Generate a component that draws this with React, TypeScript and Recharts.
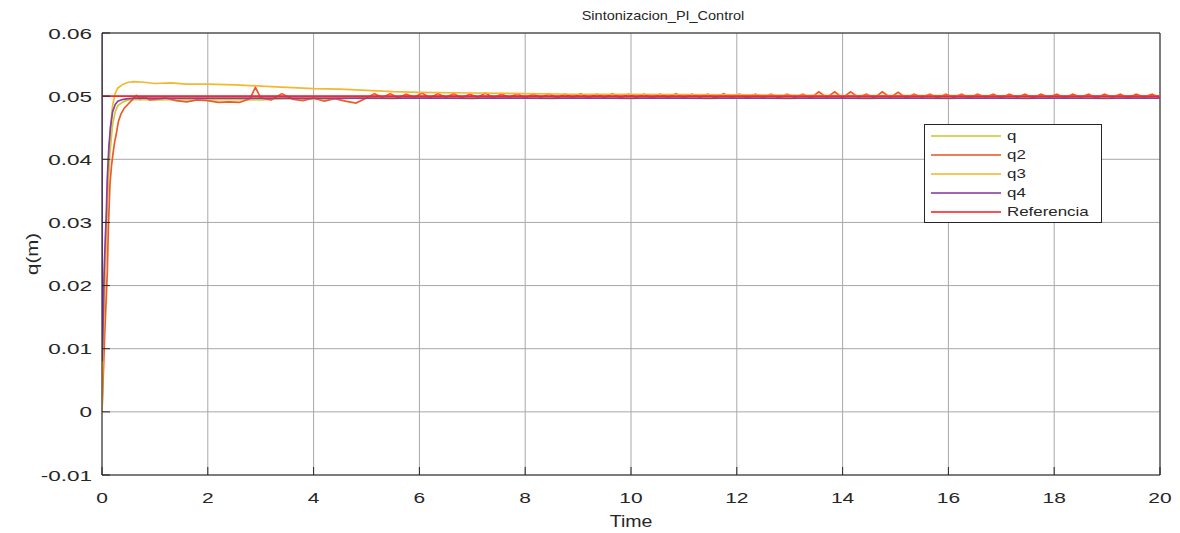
import React from 'react';
import { LineChart, Line, XAxis, YAxis, CartesianGrid, Legend, ReferenceLine } from 'recharts';

const xTicks = [0, 2, 4, 6, 8, 10, 12, 14, 16, 18, 20];
const yTicks = [-0.01, 0, 0.01, 0.02, 0.03, 0.04, 0.05, 0.06];

// q
const qTime = [0, 0.02, 0.05, 0.08, 0.1, 0.15, 0.2, 0.25, 0.3, 0.4, 0.5, 0.7, 1,
  1.5, 2, 2.5, 3, 3.5, 4, 4.5, 5,
  5.5, 6, 6.5, 7, 7.5, 8, 8.5, 9, 9.5, 10, 10.5, 11, 11.5, 12, 12.5, 13, 13.5, 14, 14.5, 15,
  15.5, 16, 16.5, 17, 17.5, 18, 18.5, 19, 19.5, 20];
const qVals = [0, 0.008, 0.019, 0.027, 0.033, 0.041, 0.0455, 0.0475, 0.0485, 0.0491, 0.0494, 0.0495, 0.0494,
  0.0495, 0.0494, 0.0495, 0.0494, 0.0496, 0.0495, 0.0496, 0.0497,
  0.0496, 0.0498, 0.0497, 0.0496, 0.0498, 0.0497, 0.0496, 0.0498, 0.0497, 0.0496, 0.0498, 0.0497, 0.0496, 0.0498, 0.0497,
  0.0496, 0.0498, 0.0497, 0.0496, 0.0498, 0.0497, 0.0496, 0.0498, 0.0497, 0.0496, 0.0498, 0.0497, 0.0496, 0.0498, 0.0497];

// q2: transient + first seconds
const q2Time = [0, 0.05, 0.08, 0.1, 0.12, 0.15, 0.18, 0.21, 0.24, 0.27, 0.31, 0.36, 0.42, 0.5, 0.58, 0.65, 0.72, 0.8, 0.9, 1.0,
  1.2, 1.4, 1.6, 1.8, 2.0, 2.2, 2.4, 2.6, 2.8, 2.9, 3.0, 3.2, 3.4, 3.6, 3.8, 4.0, 4.2, 4.4, 4.6, 4.8, 5.0];
const q2Vals = [0, 0.012, 0.018, 0.022, 0.029, 0.036, 0.039, 0.041, 0.0428, 0.044, 0.046, 0.0472, 0.0481, 0.0488, 0.0495, 0.0501, 0.0496, 0.0499, 0.0494, 0.0495,
  0.0497, 0.0493, 0.0491, 0.0494, 0.0493, 0.049, 0.0491, 0.049, 0.0496, 0.0514, 0.0497, 0.0494, 0.0504, 0.0495, 0.0493, 0.0497, 0.0492, 0.0496, 0.0492, 0.0489, 0.0497];
// q2: oscillation after t = 5, one sample every 0.15 s
const q2OscStart = 5;
const q2OscStep = 0.15;
const q2OscVals = [
  0.0504, 0.0498, 0.0504, 0.0497, 0.0503, 0.0498, 0.0505, 0.0497, 0.0504, 0.0498,
  0.0504, 0.0497, 0.0503, 0.0498, 0.0505, 0.0497, 0.0503, 0.0498, 0.0504, 0.0497,
  0.0503, 0.0498, 0.0504, 0.0497, 0.0503, 0.0498, 0.0504, 0.0497, 0.0503, 0.0498,
  0.0504, 0.0497, 0.0503, 0.0498, 0.0503, 0.0497, 0.0503, 0.0498, 0.0504, 0.0497,
  0.0503, 0.0498, 0.0503, 0.0497, 0.0504, 0.0498, 0.0503, 0.0497, 0.0503, 0.0498,
  0.0503, 0.0497, 0.0503, 0.0498, 0.0503, 0.0497, 0.0507, 0.0498, 0.0507, 0.0497,
  0.0507, 0.0498, 0.0503, 0.0497, 0.0507, 0.0498, 0.0506, 0.0497, 0.0503, 0.0498,
  0.0503, 0.0497, 0.0503, 0.0498, 0.0503, 0.0497, 0.0503, 0.0498, 0.0503, 0.0497,
  0.0503, 0.0498, 0.0503, 0.0497, 0.0503, 0.0498, 0.0503, 0.0497, 0.0503, 0.0498,
  0.0503, 0.0497, 0.0503, 0.0498, 0.0503, 0.0497, 0.0503, 0.0498, 0.0503, 0.0497,
];

// q3
const q3Time = [0, 0.01, 0.03, 0.05, 0.08, 0.1, 0.13, 0.16, 0.2, 0.25, 0.3, 0.4, 0.5, 0.6, 0.8, 1.0, 1.3, 1.6, 2.0, 2.5,
  3.0, 3.5, 4.0, 4.5, 5.0, 5.5, 6, 7, 8, 9, 10, 12, 14, 16, 18, 20];
const q3Vals = [0, 0.006, 0.013, 0.021, 0.029, 0.035, 0.0405, 0.045, 0.0485, 0.0505, 0.0513, 0.0519, 0.0522, 0.0523, 0.0522, 0.052,
  0.0521, 0.0519, 0.0519, 0.0518, 0.0516, 0.0514, 0.0512, 0.0511, 0.0509, 0.0507, 0.0506, 0.0505, 0.0504, 0.0503, 0.0503,
  0.0502, 0.0501, 0.0501, 0.05, 0.05];

// q4
const q4Time = [0, 0.005, 0.02, 0.04, 0.06, 0.08, 0.1, 0.13, 0.16, 0.2, 0.25, 0.3, 0.4, 0.5, 0.6, 1, 20];
const q4Vals = [0.06, 0.008, 0.014, 0.022, 0.027, 0.031, 0.037, 0.042, 0.045, 0.0475, 0.0487, 0.0492, 0.0495, 0.0496, 0.0497, 0.0497, 0.0497];

// Referencia
const refTime = [0, 20];
const refVals = [0.05, 0.05];

const zip = (t: number[], v: number[]) => t.map((x, i) => ({ t: x, v: v[i] }));

const q2AllTime = q2Time.concat(q2OscVals.map((_, i) => +(q2OscStart + (i + 1) * q2OscStep).toFixed(2)));
const q2AllVals = q2Vals.concat(q2OscVals);

const series = [
  { name: 'q', color: '#cccc33', data: zip(qTime, qVals) },
  { name: 'q2', color: '#ec5a2a', data: zip(q2AllTime, q2AllVals) },
  { name: 'q3', color: '#f4b732', data: zip(q3Time, q3Vals) },
  { name: 'q4', color: '#8a3fa5', data: zip(q4Time, q4Vals) },
  { name: 'Referencia', color: '#ff2424', data: zip(refTime, refVals) },
];
const seriesOrder = series.map((s) => s.name);

const FONT = '"Liberation Sans", Arial, Helvetica, sans-serif';
const INK = '#262626';

const fmtY = (v: number) => (v === 0 ? '0' : String(+v.toFixed(2)));

const YTick = (props: any) => (
  <g transform={`translate(${props.x},${props.y})`}>
    <text transform="scale(1.5,1)" textAnchor="end" dy={5.5} fontSize={15} fill={INK} fontFamily={FONT}>
      {fmtY(props.payload.value)}
    </text>
  </g>
);

const XTick = (props: any) => (
  <g transform={`translate(${props.x},${props.y})`}>
    <text transform="scale(1.4,1)" textAnchor="middle" dy={14} fontSize={15} fill={INK} fontFamily={FONT}>
      {props.payload.value}
    </text>
  </g>
);

const LegendBox = (props: any) => {
  const items = [...(props.payload || [])].sort(
    (a: any, b: any) => seriesOrder.indexOf(a.value) - seriesOrder.indexOf(b.value)
  );
  return (
    <div style={{ width: 178, height: 99, border: `1px solid ${INK}`, background: '#fff', boxSizing: 'border-box', paddingTop: 1 }}>
      {items.map((p: any) => (
        <div key={p.value} style={{ display: 'flex', alignItems: 'center', height: 19 }}>
          <div style={{ width: 70, height: 0, borderTop: `2px solid ${p.color}`, marginLeft: 6, opacity: 0.8 }} />
          <span style={{ marginLeft: 6, fontSize: 13, lineHeight: '19px', transform: 'scaleX(1.3)', transformOrigin: 'left center', fontFamily: FONT, color: INK, whiteSpace: 'nowrap' }}>
            {p.value}
          </span>
        </div>
      ))}
    </div>
  );
};

const TitleLabel = (p: any) => {
  const vb = p.viewBox;
  const cx = vb.x + vb.width / 2 + 32;
  return (
    <text x={0} y={0} textAnchor="middle" fontSize={12.5} fill={INK} fontFamily={FONT}
      transform={`translate(${cx},${vb.y - 13}) scale(1.16,1)`}>
      Sintonizacion_PI_Control
    </text>
  );
};

export default function App() {
  return (
    <div style={{ position: 'absolute', left: 0, top: 0, width: 1180, height: 533, background: '#fff' }}>
      <LineChart width={1180} height={533} margin={{ top: 33, right: 20, bottom: 0, left: 0 }}>
        <CartesianGrid stroke="#a8a8a8" strokeWidth={1} horizontalValues={yTicks} verticalValues={xTicks} />
        <XAxis
          dataKey="t"
          type="number"
          domain={[0, 20]}
          ticks={xTicks}
          allowDataOverflow
          height={58}
          stroke={INK}
          tickSize={-8}
          tickMargin={22}
          tick={XTick}
          label={(p: any) => {
            const vb = p.viewBox;
            return (
              <text x={0} y={0} textAnchor="middle" fontSize={17} fill={INK} fontFamily={FONT}
                transform={`translate(${vb.x + vb.width / 2},${vb.y + 52}) scale(1.15,1)`}>
                Time
              </text>
            );
          }}
        />
        <YAxis
          type="number"
          domain={[-0.01, 0.06]}
          ticks={yTicks}
          allowDataOverflow
          width={102}
          stroke={INK}
          tickSize={-8}
          tickMargin={18}
          tick={YTick}
          label={(p: any) => {
            const vb = p.viewBox;
            return (
              <text x={0} y={0} textAnchor="middle" fontSize={17} fill={INK} fontFamily={FONT}
                transform={`translate(38,${vb.y + vb.height / 2}) rotate(-90) scale(1.2,1)`}>
                q(m)
              </text>
            );
          }}
        />
        <ReferenceLine y={0.06} stroke={INK} strokeWidth={1} label={TitleLabel} />
        <ReferenceLine x={20} stroke={INK} strokeWidth={1} />
        {series.map((s) => (
          <Line
            key={s.name}
            data={s.data}
            dataKey="v"
            name={s.name}
            type="linear"
            stroke={s.color}
            strokeWidth={1.7}
            dot={false}
            activeDot={false}
            isAnimationActive={false}
          />
        ))}
        <Legend
          layout="vertical"
          align="center"
          verticalAlign="middle"
          content={LegendBox}
          wrapperStyle={{ left: 924, top: 124, width: 178, height: 99 }}
        />
      </LineChart>
    </div>
  );
}
